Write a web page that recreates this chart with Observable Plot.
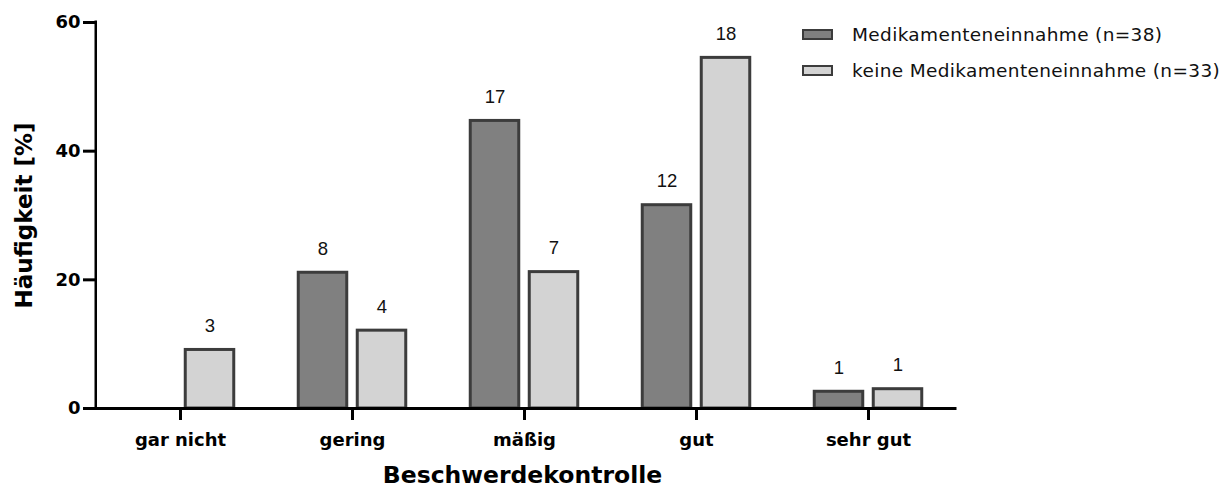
<!DOCTYPE html>
<html>
<head>
<meta charset="utf-8">
<script src="https://cdn.jsdelivr.net/npm/d3@7"></script>
<script src="https://cdn.jsdelivr.net/npm/@observablehq/plot@0.6"></script>
<style>
  body { margin: 0; background: #fff; }
  #wrap { position: relative; width: 1232px; height: 489px; }
  #legend { position: absolute; left: 802px; top: 0; font-family: "DejaVu Sans", sans-serif; font-size: 18.5px; letter-spacing: 0.35px; color: #111; }
  .row { position: absolute; left: 0; white-space: nowrap; display: flex; align-items: center; height: 20px; }
  .sw { box-sizing: border-box; width: 31px; height: 11px; border: 2.5px solid #3c3c3c; margin-right: 19px; }
</style>
</head>
<body>
<div id="wrap"><div id="legend"></div></div>
<script>
const categories = ["gar nicht", "gering", "mäßig", "gut", "sehr gut"];
const seriesNames = ["Medikamenteneinnahme (n=38)", "keine Medikamenteneinnahme (n=33)"];
const medPercent = [0, 21.1, 44.7, 31.6, 2.6];
const keinePercent = [9.1, 12.1, 21.2, 54.5, 3.0];
const medCounts = [0, 8, 17, 12, 1];
const keineCounts = [3, 4, 7, 18, 1];
const yTicks = [0, 20, 40, 60];
const seriesColors = ["#808080", "#d3d3d3"];

const med = categories.map((c, i) => ({cat: c, value: medPercent[i], n: medCounts[i]}));
const keine = categories.map((c, i) => ({cat: c, value: keinePercent[i], n: keineCounts[i]}));

const W = 1232, H = 489;
const mL = 95, mR = 277, mT = 22, mB = 81;
const frameW = W - mL - mR;
const half = (955 - 92.5) / categories.length / 2;
const bw = 49, off = 29.5;
const boldFont = {fontFamily: "DejaVu Sans", fontWeight: "bold", fontSize: 18};

const chart = Plot.plot({
  width: W, height: H,
  marginLeft: mL, marginRight: mR, marginTop: mT, marginBottom: mB,
  style: {fontFamily: "DejaVu Sans", color: "#000", background: "transparent"},
  x: {domain: categories, range: [92.5, 955], padding: 0},
  y: {domain: [0, 60], range: [H - mB, mT]},
  marks: [
    Plot.barY(med.filter(d => d.value > 0), {x: "cat", y: "value", fill: seriesColors[0], stroke: "#3c3c3c", strokeWidth: 3,
      insetLeft: half - off - bw / 2, insetRight: half + off - bw / 2}),
    Plot.barY(keine.filter(d => d.value > 0), {x: "cat", y: "value", fill: seriesColors[1], stroke: "#3c3c3c", strokeWidth: 3,
      insetLeft: half + off - bw / 2, insetRight: half - off - bw / 2}),
    Plot.text(med.filter(d => d.n > 0), {x: "cat", y: "value", text: d => String(d.n), dx: -off, dy: -24,
      fontFamily: "Liberation Sans", fontSize: 18.5, fill: "#111"}),
    Plot.text(keine.filter(d => d.n > 0), {x: "cat", y: "value", text: d => String(d.n), dx: off, dy: -24,
      fontFamily: "Liberation Sans", fontSize: 18.5, fill: "#111"}),
    Plot.ruleY([0], {stroke: "#000", strokeWidth: 3, strokeLinecap: "square"}),
    Plot.rect([0], {y1: () => 0, y2: () => 60, fill: "#000", insetRight: frameW - 2.5, dx: -0.5, insetTop: -1.5}),
    Plot.axisY({ticks: yTicks, tickSize: 12, tickPadding: 3, strokeWidth: 3, label: null, fill: "#000", ...boldFont}),
    Plot.axisX({tickSize: 12, tickPadding: 13, strokeWidth: 3, label: null, fill: "#000", ...boldFont}),
    Plot.text(["Häufigkeit [%]"], {frameAnchor: "left", textAnchor: "middle", lineAnchor: "middle", rotate: -90, dx: -71,
      fontFamily: "DejaVu Sans", fontWeight: "bold", fontSize: 23, fill: "#000"}),
    Plot.text(["Beschwerdekontrolle"], {frameAnchor: "bottom", textAnchor: "middle", lineAnchor: "bottom", dx: -3, dy: 74,
      fontFamily: "DejaVu Sans", fontWeight: "bold", fontSize: 23.5, fill: "#000"})
  ]
});
document.getElementById("wrap").prepend(chart);

const legend = document.getElementById("legend");
const rowTops = [24, 60];
seriesNames.forEach((name, i) => {
  const row = document.createElement("div");
  row.className = "row";
  row.style.top = rowTops[i] + "px";
  const sw = document.createElement("div");
  sw.className = "sw";
  sw.style.background = seriesColors[i];
  const label = document.createElement("span");
  label.textContent = name;
  row.append(sw, label);
  legend.append(row);
});
</script>
</body>
</html>
